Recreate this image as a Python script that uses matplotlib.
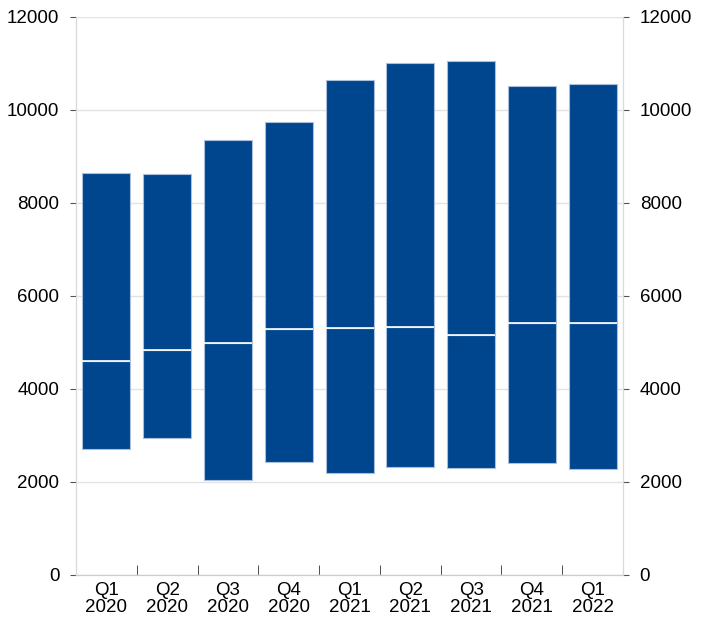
import numpy as np
import matplotlib
matplotlib.use("Agg")
import matplotlib.pyplot as plt
from matplotlib.ticker import FixedLocator

quarters = ["Q1\n2020", "Q2\n2020", "Q3\n2020", "Q4\n2020",
            "Q1\n2021", "Q2\n2021", "Q3\n2021", "Q4\n2021", "Q1\n2022"]
low = [2710, 2946, 2043, 2430, 2194, 2323, 2301, 2409, 2280]
median = [4602, 4839, 4989, 5290, 5312, 5333, 5161, 5419, 5419]
high = [8645, 8624, 9355, 9742, 10645, 11010, 11054, 10516, 10559]

plt.rcParams['font.family'] = ['Liberation Sans', 'DejaVu Sans']

low = np.array(low)
median = np.array(median)
high = np.array(high)
x = np.arange(len(quarters))

fig = plt.figure(figsize=(7.04, 6.2), dpi=100)
ax = fig.add_axes([0.108, 0.0726, 0.777, 0.9])

bar_col = "#00468f"
edge_col = "#a9bfdc"
ax.bar(x, median - low, bottom=low, width=0.79, color=bar_col,
       edgecolor=edge_col, linewidth=0.8, zorder=3)
ax.bar(x, high - median, bottom=median, width=0.79, color=bar_col,
       edgecolor=edge_col, linewidth=0.8, zorder=3)
ax.hlines(median, x - 0.395, x + 0.395, color="white", linewidth=1.2, zorder=4)

fs = 13.5
ax.set_xlim(-0.5, len(quarters) - 0.5)
ax.set_ylim(0, 12000)
ticks = np.arange(0, 12001, 2000)
ax.set_yticks(ticks)
ax.grid(axis="y", color="#e3e3e3", linewidth=1, zorder=0)
ax.set_xticks(x)
ax.set_xticklabels(quarters, fontsize=fs, linespacing=1.0)
ax.tick_params(axis="x", length=0, pad=5)
ax.xaxis.set_minor_locator(FixedLocator(np.arange(0.5, len(quarters) - 1, 1)))
ax.tick_params(axis="x", which="minor", direction="in", length=7, color="#333333")
ax.tick_params(axis="y", labelsize=fs, length=4, color="#555555", width=0.8, pad=8)

ax2 = ax.twinx()
ax2.set_ylim(0, 12000)
ax2.set_yticks(ticks)
ax2.tick_params(axis="y", labelsize=fs, length=4, color="#555555", width=0.8, pad=8)

for a in (ax, ax2):
    a.spines["top"].set_visible(False)
    a.spines["left"].set_color("#d9d9d9")
    a.spines["right"].set_color("#d9d9d9")
    a.spines["bottom"].set_color("#cccccc")

fig.savefig("out.png", dpi=100)
